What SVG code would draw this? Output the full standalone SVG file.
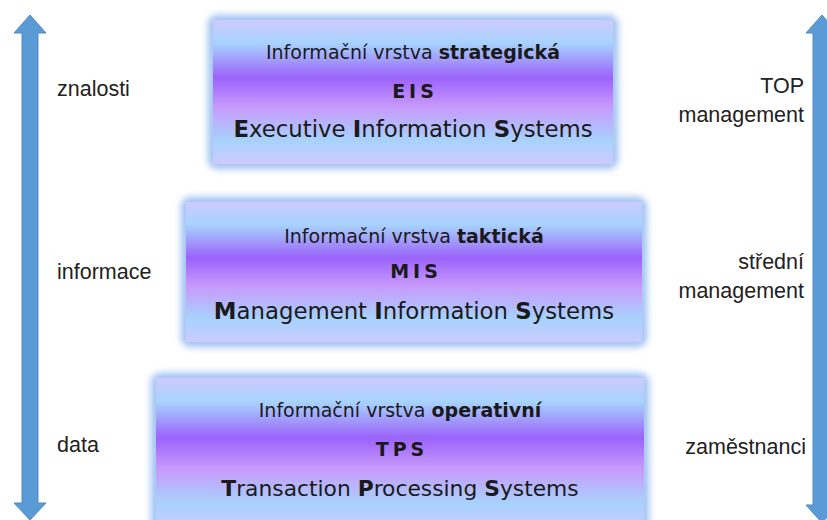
<svg xmlns="http://www.w3.org/2000/svg" width="827" height="520" viewBox="0 0 827 520">
<defs>
<linearGradient id="g" x1="0" y1="0" x2="0" y2="1">
<stop offset="0" stop-color="#cdcbff"/>
<stop offset="0.16" stop-color="#a7d3fd"/>
<stop offset="0.40" stop-color="#9b63fb"/>
<stop offset="0.60" stop-color="#c899fc"/>
<stop offset="0.84" stop-color="#a7d3fd"/>
<stop offset="1" stop-color="#cdcbff"/>
</linearGradient>
<filter id="blur" x="-10%" y="-20%" width="120%" height="140%">
<feGaussianBlur stdDeviation="3.5"/>
</filter>
</defs>
<style>
.glow{fill:none;stroke:#9dc0f2;stroke-width:10;filter:url(#blur)}
.box{fill:url(#g)}
.t1{font-family:"DejaVu Sans","Liberation Sans",sans-serif;font-size:19px;fill:#1a1a1a;text-anchor:middle}
.t2{font-family:"DejaVu Sans","Liberation Sans",sans-serif;font-size:19px;font-weight:bold;fill:#1a1a1a;text-anchor:middle;letter-spacing:4px}
.t3{font-family:"DejaVu Sans","Liberation Sans",sans-serif;font-size:22.8px;fill:#1a1a1a;text-anchor:middle}
.b{font-weight:bold}
.side{font-family:"Liberation Sans",Arial,sans-serif;font-size:21.5px;fill:#222}
.r{text-anchor:end}
.arrow{fill:#5b9bd5;stroke:#4f8cc6;stroke-width:1}
</style>
<g id="arrow-left">
<polygon class="arrow" points="30,15 46,33 38,33 38,503 46,503 30,520 14,503 22,503 22,33 14,33"/>
</g>
<g id="arrow-right">
<polygon class="arrow" points="822,15 838,33 831,33 831,505 838,505 822,523 806,505 813,505 813,33 806,33"/>
</g>
<g id="eis">
<rect class="glow" x="213" y="20" width="400" height="144" rx="4"/>
<rect class="box" x="213" y="20" width="400" height="144"/>
<text class="t1" x="413" y="59">Informační vrstva <tspan class="b">strategická</tspan></text>
<text class="t2" x="415" y="98">EIS</text>
<text class="t3" x="413" y="137"><tspan class="b">E</tspan>xecutive <tspan class="b">I</tspan>nformation <tspan class="b">S</tspan>ystems</text>
</g>
<g id="mis">
<rect class="glow" x="186" y="202" width="456" height="140" rx="4"/>
<rect class="box" x="186" y="202" width="456" height="140"/>
<text class="t1" x="414" y="243">Informační vrstva <tspan class="b">taktická</tspan></text>
<text class="t2" x="416" y="278">MIS</text>
<text class="t3" x="414" y="319"><tspan class="b">M</tspan>anagement <tspan class="b">I</tspan>nformation <tspan class="b">S</tspan>ystems</text>
</g>
<g id="tps">
<rect class="glow" x="156" y="378" width="488" height="150" rx="4"/>
<rect class="box" x="156" y="378" width="488" height="150"/>
<text class="t1" x="400" y="417">Informační vrstva <tspan class="b">operativní</tspan></text>
<text class="t2" x="402" y="456">TPS</text>
<text class="t3" x="400" y="496" style="font-size:21.8px"><tspan class="b">T</tspan>ransaction <tspan class="b">P</tspan>rocessing <tspan class="b">S</tspan>ystems</text>
</g>
<g id="labels-left">
<text class="side" x="57" y="96">znalosti</text>
<text class="side" x="57" y="279">informace</text>
<text class="side" x="57" y="452">data</text>
</g>
<g id="labels-right">
<text class="side r" x="804" y="93">TOP</text>
<text class="side r" x="804" y="122">management</text>
<text class="side r" x="804" y="269">střední</text>
<text class="side r" x="804" y="298">management</text>
<text class="side r" x="806" y="454">zaměstnanci</text>
</g>
</svg>
